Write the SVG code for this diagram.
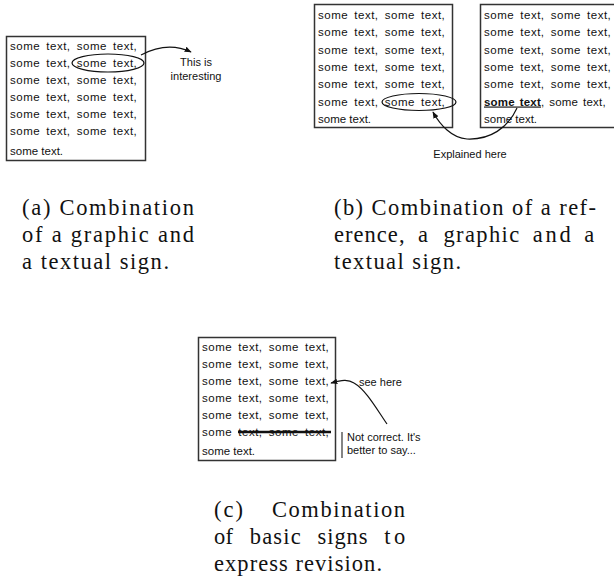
<svg xmlns="http://www.w3.org/2000/svg" width="614" height="584" viewBox="0 0 614 584">
<style>
.box{fill:#fff;stroke:#333;stroke-width:1.5}
.t{font-family:"Liberation Sans",Arial,sans-serif;font-size:11.5px;fill:#111;letter-spacing:0.5px;word-spacing:2.5px}
.tl{font-family:"Liberation Sans",Arial,sans-serif;font-size:11.5px;fill:#111}
.lab{font-family:"Liberation Sans",Arial,sans-serif;font-size:11px;fill:#111}
.cap{font-family:"Liberation Serif","Times New Roman",serif;font-size:22.5px;fill:#111}
.ell{fill:none;stroke:#111;stroke-width:1.2}
.con{fill:none;stroke:#111;stroke-width:1.2}
</style>
<defs>
<marker id="ah" viewBox="0 0 10 10" refX="9" refY="5" markerWidth="7" markerHeight="7" orient="auto" markerUnits="userSpaceOnUse">
<path d="M0,1 L10,5 L0,9 Z" fill="#111"/>
</marker>
</defs>

<g id="boxA">
<rect class="box" x="6.5" y="36.5" width="139" height="124"/>
<text class="t" x="10" y="50">some text, some text,</text>
<text class="t" x="10" y="67">some text, some text,</text>
<text class="t" x="10" y="84">some text, some text,</text>
<text class="t" x="10" y="101">some text, some text,</text>
<text class="t" x="10" y="118">some text, some text,</text>
<text class="t" x="10" y="135">some text, some text,</text>
<text class="tl" x="10" y="155">some text.</text>
<ellipse class="ell" cx="108" cy="63" rx="36" ry="9"/>
</g>
<g id="labelA">
<text class="lab" x="196" y="66" text-anchor="middle">This is</text>
<text class="lab" x="196" y="80" text-anchor="middle">interesting</text>
</g>

<g id="boxB1">
<rect class="box" x="314.5" y="4.5" width="138" height="123"/>
<text class="t" x="318" y="19">some text, some text,</text>
<text class="t" x="318" y="36.3">some text, some text,</text>
<text class="t" x="318" y="53.6">some text, some text,</text>
<text class="t" x="318" y="70.9">some text, some text,</text>
<text class="t" x="318" y="88.2">some text, some text,</text>
<text class="t" x="318" y="105.5">some text, some text,</text>
<text class="tl" x="318" y="123">some text.</text>
<ellipse class="ell" cx="419" cy="102" rx="37" ry="8.5"/>
</g>
<g id="boxB2">
<rect class="box" x="480.5" y="4.5" width="140" height="123"/>
<text class="t" x="484" y="19">some text, some text,</text>
<text class="t" x="484" y="36.3">some text, some text,</text>
<text class="t" x="484" y="53.6">some text, some text,</text>
<text class="t" x="484" y="70.9">some text, some text,</text>
<text class="t" x="484" y="88.2">some text, some text,</text>
<text class="t" x="484" y="105.5" style="letter-spacing:0.2px;word-spacing:1.5px"><tspan font-weight="bold" text-decoration="underline">some text</tspan>, some text,</text>
<text class="tl" x="484" y="123">some text.</text>
</g>
<g id="labelB">
<text class="lab" x="470" y="158" text-anchor="middle">Explained here</text>
</g>

<g id="boxC">
<rect class="box" x="198.5" y="337.5" width="137" height="123"/>
<text class="t" x="202" y="351">some text, some text,</text>
<text class="t" x="202" y="368">some text, some text,</text>
<text class="t" x="202" y="385">some text, some text,</text>
<text class="t" x="202" y="402">some text, some text,</text>
<text class="t" x="202" y="419">some text, some text,</text>
<text class="t" x="202" y="436">some text, some text,</text>
<text class="tl" x="202" y="455">some text.</text>
<line x1="238" y1="432" x2="331" y2="432" stroke="#111" stroke-width="2.5"/>
</g>
<g id="labelC1">
<text class="lab" x="359" y="386">see here</text>
</g>
<g id="labelC2">
<line x1="342" y1="432" x2="342" y2="458" stroke="#333" stroke-width="1.2"/>
<text class="lab" x="347" y="441" font-size="10.5">Not correct. It's</text>
<text class="lab" x="347" y="454" font-size="10.5">better to say...</text>
</g>

<g id="connectors">
<path class="con" d="M141,55 C158,46 174,44 191,52" marker-end="url(#ah)"/>
<path class="con" d="M517,108 C508,128 490,140 467,139 C452,138 440,125 433,112" marker-end="url(#ah)"/>
<path class="con" d="M387,424 C376,408 366,390 354,383 C348,379 342,380 331,383" marker-end="url(#ah)"/>
</g>

<g id="captions">
<text class="cap" x="22" y="215" textLength="172" lengthAdjust="spacing">(a) Combination</text>
<text class="cap" x="22" y="242" textLength="172" lengthAdjust="spacing">of a graphic and</text>
<text class="cap" x="22" y="269" textLength="147" lengthAdjust="spacing">a textual sign.</text>

<text class="cap" x="334" y="215" textLength="262" lengthAdjust="spacing">(b) Combination of a ref-</text>
<text class="cap" y="242"><tspan x="334" textLength="70.5" lengthAdjust="spacing">erence,</tspan><tspan x="418.1">a</tspan><tspan x="443.4" textLength="75.8" lengthAdjust="spacing">graphic</tspan><tspan x="532.8" textLength="37.9" lengthAdjust="spacing">and</tspan><tspan x="584.3">a</tspan></text>
<text class="cap" x="334" y="269" textLength="127" lengthAdjust="spacing">textual sign.</text>

<text class="cap" x="214" y="517" textLength="29" lengthAdjust="spacing">(c)</text>
<text class="cap" x="272" y="517" textLength="133" lengthAdjust="spacing">Combination</text>
<text class="cap" y="544"><tspan x="214" textLength="19" lengthAdjust="spacing">of</tspan><tspan x="249.7" textLength="51" lengthAdjust="spacing">basic</tspan><tspan x="317.5" textLength="50" lengthAdjust="spacing">signs</tspan><tspan x="384.2" textLength="21" lengthAdjust="spacing">to</tspan></text>
<text class="cap" x="214" y="571" textLength="168" lengthAdjust="spacing">express revision.</text>
</g>
</svg>
